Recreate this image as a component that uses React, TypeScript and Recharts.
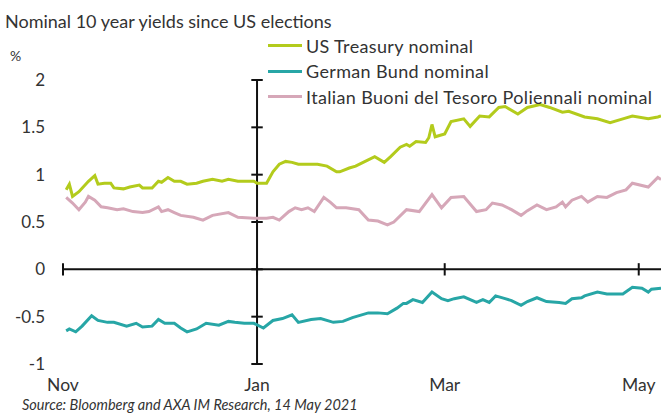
import {
  LineChart,
  Line,
  XAxis,
  YAxis,
  ReferenceLine,
  Legend,
} from "recharts";

// x = days since 1 Nov 2020, y = yield in %
const usTreasury: [number, number][] = [
  [1, 0.84], [2, 0.9], [3, 0.77], [5, 0.82], [8, 0.93], [10, 0.99], [11, 0.9],
  [13, 0.91], [15, 0.91], [16, 0.86], [19, 0.85], [21, 0.87], [24, 0.89],
  [25, 0.86], [28, 0.86], [30, 0.93], [31, 0.92], [33, 0.97], [35, 0.93],
  [37, 0.93], [39, 0.9], [42, 0.91], [44, 0.93], [47, 0.95], [50, 0.93],
  [52, 0.95], [55, 0.93], [60, 0.93], [61, 0.91], [64, 0.91], [66, 1.03],
  [68, 1.11], [70, 1.14], [72, 1.13], [74, 1.11], [77, 1.11], [80, 1.11],
  [83, 1.09], [86, 1.03], [87, 1.03], [90, 1.07], [92, 1.09], [95, 1.14],
  [98, 1.19], [101, 1.13], [103, 1.19], [106, 1.29], [108, 1.32], [109, 1.3],
  [111, 1.35], [114, 1.34], [115, 1.39], [116, 1.53], [117, 1.4], [120, 1.43],
  [122, 1.56], [126, 1.59], [128, 1.51], [131, 1.62], [134, 1.61], [137, 1.71],
  [139, 1.72], [143, 1.64], [146, 1.71], [150, 1.74], [153, 1.71], [157, 1.66],
  [159, 1.67], [164, 1.61], [168, 1.59], [172, 1.55], [176, 1.59], [179, 1.62],
  [184, 1.59], [187, 1.61], [188, 1.62],
];

const germanBund: [number, number][] = [
  [1, -0.65], [2, -0.63], [4, -0.66], [6, -0.6], [9, -0.49], [11, -0.54],
  [14, -0.56], [16, -0.56], [20, -0.6], [23, -0.57], [25, -0.61], [28, -0.6],
  [30, -0.53], [32, -0.57], [35, -0.57], [37, -0.62], [39, -0.66], [42, -0.63],
  [45, -0.57], [49, -0.59], [52, -0.55], [54, -0.56], [57, -0.57], [60, -0.57],
  [63, -0.62], [66, -0.54], [69, -0.52], [72, -0.48], [74, -0.56], [78, -0.53],
  [81, -0.52], [85, -0.56], [88, -0.55], [91, -0.51], [96, -0.46], [99, -0.46],
  [102, -0.47], [105, -0.41], [107, -0.36], [108, -0.36], [110, -0.32],
  [113, -0.35], [116, -0.24], [119, -0.31], [121, -0.33], [123, -0.31],
  [126, -0.29], [130, -0.35], [132, -0.32], [134, -0.35], [136, -0.28],
  [139, -0.31], [141, -0.33], [144, -0.38], [146, -0.34], [149, -0.3],
  [152, -0.34], [156, -0.35], [158, -0.36], [160, -0.31], [163, -0.3],
  [164, -0.28], [168, -0.24], [171, -0.26], [176, -0.26], [179, -0.19],
  [182, -0.2], [184, -0.24], [185, -0.21], [188, -0.2],
];

const italianBtp: [number, number][] = [
  [1, 0.76], [3, 0.7], [5, 0.63], [7, 0.71], [8, 0.77], [10, 0.73], [12, 0.66],
  [14, 0.65], [17, 0.63], [19, 0.64], [22, 0.61], [25, 0.6], [27, 0.61],
  [30, 0.66], [31, 0.61], [33, 0.63], [35, 0.6], [37, 0.57], [41, 0.55],
  [42, 0.54], [44, 0.52], [47, 0.57], [52, 0.6], [55, 0.55], [60, 0.54],
  [64, 0.54], [66, 0.55], [68, 0.52], [71, 0.61], [73, 0.65], [75, 0.63],
  [77, 0.65], [79, 0.61], [82, 0.76], [84, 0.71], [86, 0.65], [89, 0.65],
  [93, 0.63], [96, 0.52], [99, 0.51], [102, 0.47], [104, 0.5], [108, 0.63],
  [112, 0.61], [116, 0.79], [119, 0.65], [122, 0.76], [126, 0.77], [130, 0.61],
  [133, 0.63], [135, 0.7], [138, 0.68], [141, 0.63], [144, 0.57], [146, 0.62],
  [149, 0.68], [152, 0.63], [155, 0.66], [157, 0.71], [158, 0.66], [160, 0.73],
  [163, 0.77], [165, 0.71], [168, 0.77], [171, 0.76], [174, 0.81], [177, 0.84],
  [179, 0.91], [184, 0.87], [187, 0.97], [188, 0.95],
];

const seriesNames = [
  "US Treasury nominal",
  "German Bund nominal",
  "Italian Buoni del Tesoro Poliennali nominal",
];
const monthTicks = [0, 61, 120, 181];
const monthLabels = ["Nov", "Jan", "Mar", "May"];
const yTicks = [-1, -0.5, 0, 0.5, 1, 1.5, 2];
const janDay = 61;

const rows = (pts: [number, number][]) =>
  pts.map(([day, value]) => ({ day, value }));

const font = "Lato, 'Open Sans', sans-serif";
const textColor = "#333";

function LegendBox(props: any) {
  const items = [...(props.payload || [])].sort(
    (a: any, b: any) => seriesNames.indexOf(a.value) - seriesNames.indexOf(b.value)
  );
  return (
    <div style={{ fontFamily: font, fontSize: 18, letterSpacing: 0.35, color: textColor }}>
      {items.map((it: any) => (
        <div
          key={it.value}
          style={{ display: "flex", alignItems: "center", height: 25.5 }}
        >
          <span
            style={{
              display: "inline-block",
              width: 34,
              height: 3,
              background: it.color,
              marginRight: 4,
            }}
          />
          <span>{it.value}</span>
        </div>
      ))}
    </div>
  );
}

export default function App() {
  return (
    <div
      style={{
        position: "absolute",
        left: 0,
        top: 0,
        width: 661,
        height: 414,
        background: "#fff",
        fontFamily: font,
        color: textColor,
        overflow: "hidden",
      }}
    >
      <div style={{ position: "absolute", left: 5, top: 12, fontSize: 18, lineHeight: 1 }}>
        Nominal 10 year yields since US elections
      </div>
      <div style={{ position: "absolute", left: 10, top: 49, fontSize: 14, lineHeight: 1 }}>
        %
      </div>

      <LineChart
        width={661}
        height={414}
        margin={{ top: 80, right: 0, left: 0, bottom: 20 }}
        style={{ position: "absolute", left: 0, top: 0 }}
      >
        <XAxis
          type="number"
          dataKey="day"
          domain={[0, 188]}
          ticks={monthTicks}
          tickFormatter={(v: number) => monthLabels[monthTicks.indexOf(v)]}
          axisLine={false}
          tickLine={false}
          tickSize={0}
          tickMargin={15}
          height={30}
          tick={{ fill: textColor, fontSize: 17.5, fontFamily: font }}
          interval={0}
        />
        <YAxis
          type="number"
          domain={[-1, 2]}
          ticks={yTicks}
          width={63}
          axisLine={false}
          tickLine={false}
          tickSize={0}
          tickMargin={18}
          tick={{ fill: textColor, fontSize: 17, fontFamily: font }}
          interval={0}
        />

        <ReferenceLine y={0} stroke="#111" strokeWidth={2} />
        <ReferenceLine
          segment={[{ x: janDay, y: -1 }, { x: janDay, y: 2 }]}
          stroke="#111"
          strokeWidth={2}
        />
        {yTicks.map((t) => (
          <ReferenceLine
            key={"yt" + t}
            segment={[{ x: janDay - 1.8, y: t }, { x: janDay + 1.8, y: t }]}
            stroke="#111"
            strokeWidth={2}
          />
        ))}
        {monthTicks.map((d) => (
          <ReferenceLine
            key={"xt" + d}
            segment={[{ x: d, y: -0.065 }, { x: d, y: 0.065 }]}
            stroke="#111"
            strokeWidth={2}
          />
        ))}

        <Line
          data={rows(usTreasury)}
          dataKey="value"
          name={seriesNames[0]}
          stroke="#b3cb1c"
          strokeWidth={3}
          dot={false}
          isAnimationActive={false}
        />
        <Line
          data={rows(germanBund)}
          dataKey="value"
          name={seriesNames[1]}
          stroke="#27a6a6"
          strokeWidth={3}
          dot={false}
          isAnimationActive={false}
        />
        <Line
          data={rows(italianBtp)}
          dataKey="value"
          name={seriesNames[2]}
          stroke="#d6a7b8"
          strokeWidth={3}
          dot={false}
          isAnimationActive={false}
        />

        <Legend
          layout="vertical"
          align="center"
          verticalAlign="middle"
          content={LegendBox}
          wrapperStyle={{ left: 268, top: 33, width: 400 }}
        />
      </LineChart>

      <div
        style={{
          position: "absolute",
          left: 22,
          top: 398,
          fontSize: 14.5,
          fontStyle: "italic",
          lineHeight: 1,
        }}
      >
        Source: Bloomberg and AXA IM Research, 14 May 2021
      </div>
    </div>
  );
}
